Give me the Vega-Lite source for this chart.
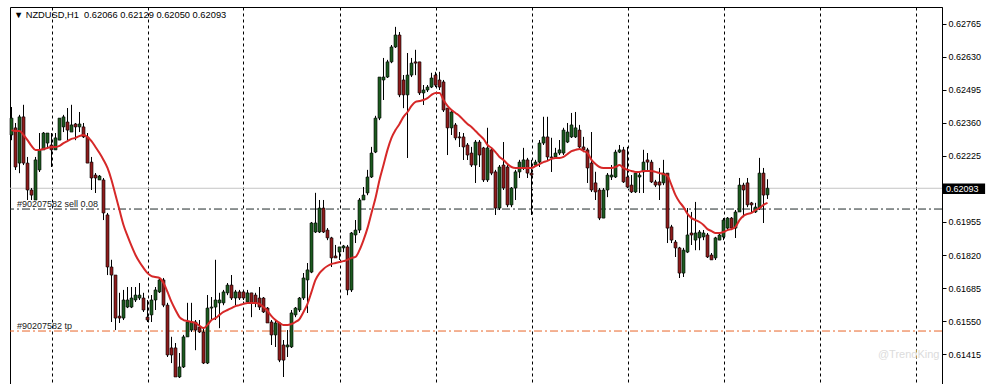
{
"$schema": "https://vega.github.io/schema/vega-lite/v6.json",
"width": 932, "height": 377,
"autosize": {"type": "none"},
"padding": {"left": 10, "top": 7, "right": 45, "bottom": 0},
"background": "white",
"config": {"view": {"stroke": "#000", "strokeWidth": 1}, "font": "Liberation Sans",
  "axisY": {"title": null, "grid": false, "tickSize": 4, "tickColor": "#000", "domainColor": "#000", "labelFontSize": 9, "labelColor": "#000", "labelPadding": 2, "labelFont": "Liberation Sans", "format": ".5f"}},
"data": {"values": [
{"i":0,"o":0.62311,"h":0.62425,"l":0.62290,"c":0.62380,"m":0.62331},
{"i":1,"o":0.62340,"h":0.62360,"l":0.62168,"c":0.62180,"m":0.62327},
{"i":2,"o":0.62196,"h":0.62393,"l":0.62155,"c":0.62385,"m":0.62327},
{"i":3,"o":0.62385,"h":0.62434,"l":0.62188,"c":0.62196,"m":0.62311},
{"i":4,"o":0.62196,"h":0.62221,"l":0.62045,"c":0.62086,"m":0.62290},
{"i":5,"o":0.62086,"h":0.62094,"l":0.62045,"c":0.62065,"m":0.62266},
{"i":6,"o":0.62045,"h":0.62221,"l":0.62045,"c":0.62209,"m":0.62250},
{"i":7,"o":0.62168,"h":0.62319,"l":0.62160,"c":0.62250,"m":0.62250},
{"i":8,"o":0.62250,"h":0.62323,"l":0.62250,"c":0.62319,"m":0.62254},
{"i":9,"o":0.62278,"h":0.62319,"l":0.62258,"c":0.62319,"m":0.62258},
{"i":10,"o":0.62270,"h":0.62319,"l":0.62180,"c":0.62250,"m":0.62262},
{"i":11,"o":0.62250,"h":0.62319,"l":0.62250,"c":0.62299,"m":0.62262},
{"i":12,"o":0.62290,"h":0.62380,"l":0.62290,"c":0.62380,"m":0.62266},
{"i":13,"o":0.62344,"h":0.62393,"l":0.62323,"c":0.62385,"m":0.62278},
{"i":14,"o":0.62364,"h":0.62421,"l":0.62290,"c":0.62331,"m":0.62286},
{"i":15,"o":0.62323,"h":0.62434,"l":0.62323,"c":0.62352,"m":0.62295},
{"i":16,"o":0.62356,"h":0.62360,"l":0.62290,"c":0.62344,"m":0.62299},
{"i":17,"o":0.62344,"h":0.62405,"l":0.62323,"c":0.62356,"m":0.62307},
{"i":18,"o":0.62344,"h":0.62360,"l":0.62299,"c":0.62303,"m":0.62311},
{"i":19,"o":0.62303,"h":0.62319,"l":0.62196,"c":0.62196,"m":0.62303},
{"i":20,"o":0.62200,"h":0.62221,"l":0.62086,"c":0.62135,"m":0.62286},
{"i":21,"o":0.62147,"h":0.62155,"l":0.62074,"c":0.62135,"m":0.62262},
{"i":22,"o":0.62127,"h":0.62147,"l":0.62127,"c":0.62143,"m":0.62237},
{"i":23,"o":0.62127,"h":0.62135,"l":0.61963,"c":0.61992,"m":0.62209},
{"i":24,"o":0.61984,"h":0.61992,"l":0.61738,"c":0.61771,"m":0.62176},
{"i":25,"o":0.61771,"h":0.61800,"l":0.61546,"c":0.61738,"m":0.62127},
{"i":26,"o":0.61738,"h":0.61738,"l":0.61513,"c":0.61562,"m":0.62065},
{"i":27,"o":0.61570,"h":0.61665,"l":0.61542,"c":0.61562,"m":0.62004},
{"i":28,"o":0.61562,"h":0.61677,"l":0.61554,"c":0.61636,"m":0.61943},
{"i":29,"o":0.61607,"h":0.61689,"l":0.61603,"c":0.61636,"m":0.61898},
{"i":30,"o":0.61607,"h":0.61689,"l":0.61603,"c":0.61644,"m":0.61857},
{"i":31,"o":0.61636,"h":0.61689,"l":0.61628,"c":0.61656,"m":0.61820},
{"i":32,"o":0.61644,"h":0.61705,"l":0.61636,"c":0.61656,"m":0.61791},
{"i":33,"o":0.61644,"h":0.61665,"l":0.61587,"c":0.61595,"m":0.61767},
{"i":34,"o":0.61566,"h":0.61636,"l":0.61546,"c":0.61554,"m":0.61746},
{"i":35,"o":0.61575,"h":0.61656,"l":0.61546,"c":0.61636,"m":0.61734},
{"i":36,"o":0.61636,"h":0.61689,"l":0.61595,"c":0.61677,"m":0.61730},
{"i":37,"o":0.61669,"h":0.61726,"l":0.61665,"c":0.61718,"m":0.61726},
{"i":38,"o":0.61718,"h":0.61726,"l":0.61607,"c":0.61615,"m":0.61705},
{"i":39,"o":0.61615,"h":0.61624,"l":0.61403,"c":0.61411,"m":0.61669},
{"i":40,"o":0.61440,"h":0.61485,"l":0.61378,"c":0.61411,"m":0.61628},
{"i":41,"o":0.61440,"h":0.61460,"l":0.61321,"c":0.61321,"m":0.61595},
{"i":42,"o":0.61321,"h":0.61419,"l":0.61317,"c":0.61362,"m":0.61566},
{"i":43,"o":0.61362,"h":0.61493,"l":0.61358,"c":0.61485,"m":0.61554},
{"i":44,"o":0.61485,"h":0.61624,"l":0.61485,"c":0.61546,"m":0.61550},
{"i":45,"o":0.61513,"h":0.61624,"l":0.61505,"c":0.61546,"m":0.61546},
{"i":46,"o":0.61546,"h":0.61554,"l":0.61431,"c":0.61513,"m":0.61542},
{"i":47,"o":0.61525,"h":0.61554,"l":0.61501,"c":0.61505,"m":0.61530},
{"i":48,"o":0.61505,"h":0.61525,"l":0.61374,"c":0.61378,"m":0.61521},
{"i":49,"o":0.61378,"h":0.61656,"l":0.61374,"c":0.61603,"m":0.61534},
{"i":50,"o":0.61603,"h":0.61648,"l":0.61554,"c":0.61607,"m":0.61554},
{"i":51,"o":0.61607,"h":0.61800,"l":0.61554,"c":0.61636,"m":0.61562},
{"i":52,"o":0.61624,"h":0.61665,"l":0.61521,"c":0.61636,"m":0.61575},
{"i":53,"o":0.61624,"h":0.61677,"l":0.61615,"c":0.61669,"m":0.61587},
{"i":54,"o":0.61665,"h":0.61705,"l":0.61656,"c":0.61697,"m":0.61595},
{"i":55,"o":0.61697,"h":0.61738,"l":0.61636,"c":0.61644,"m":0.61603},
{"i":56,"o":0.61644,"h":0.61677,"l":0.61615,"c":0.61669,"m":0.61611},
{"i":57,"o":0.61669,"h":0.61677,"l":0.61636,"c":0.61644,"m":0.61615},
{"i":58,"o":0.61669,"h":0.61677,"l":0.61636,"c":0.61644,"m":0.61620},
{"i":59,"o":0.61628,"h":0.61677,"l":0.61628,"c":0.61665,"m":0.61624},
{"i":60,"o":0.61665,"h":0.61665,"l":0.61566,"c":0.61624,"m":0.61624},
{"i":61,"o":0.61656,"h":0.61665,"l":0.61607,"c":0.61624,"m":0.61624},
{"i":62,"o":0.61644,"h":0.61689,"l":0.61595,"c":0.61607,"m":0.61620},
{"i":63,"o":0.61644,"h":0.61648,"l":0.61583,"c":0.61587,"m":0.61607},
{"i":64,"o":0.61603,"h":0.61607,"l":0.61542,"c":0.61542,"m":0.61591},
{"i":65,"o":0.61546,"h":0.61554,"l":0.61452,"c":0.61493,"m":0.61570},
{"i":66,"o":0.61493,"h":0.61554,"l":0.61444,"c":0.61542,"m":0.61554},
{"i":67,"o":0.61542,"h":0.61546,"l":0.61382,"c":0.61390,"m":0.61542},
{"i":68,"o":0.61452,"h":0.61472,"l":0.61321,"c":0.61390,"m":0.61534},
{"i":69,"o":0.61444,"h":0.61513,"l":0.61403,"c":0.61452,"m":0.61534},
{"i":70,"o":0.61444,"h":0.61595,"l":0.61440,"c":0.61583,"m":0.61538},
{"i":71,"o":0.61575,"h":0.61607,"l":0.61566,"c":0.61603,"m":0.61546},
{"i":72,"o":0.61595,"h":0.61648,"l":0.61587,"c":0.61644,"m":0.61558},
{"i":73,"o":0.61644,"h":0.61746,"l":0.61636,"c":0.61726,"m":0.61587},
{"i":74,"o":0.61718,"h":0.61787,"l":0.61583,"c":0.61759,"m":0.61620},
{"i":75,"o":0.61750,"h":0.61955,"l":0.61746,"c":0.61951,"m":0.61669},
{"i":76,"o":0.61914,"h":0.62074,"l":0.61910,"c":0.61951,"m":0.61718},
{"i":77,"o":0.61914,"h":0.62045,"l":0.61910,"c":0.62012,"m":0.61746},
{"i":78,"o":0.62012,"h":0.62045,"l":0.61910,"c":0.61914,"m":0.61763},
{"i":79,"o":0.61922,"h":0.61930,"l":0.61881,"c":0.61890,"m":0.61775},
{"i":80,"o":0.61890,"h":0.61894,"l":0.61771,"c":0.61808,"m":0.61783},
{"i":81,"o":0.61816,"h":0.61861,"l":0.61808,"c":0.61808,"m":0.61787},
{"i":82,"o":0.61832,"h":0.61853,"l":0.61800,"c":0.61853,"m":0.61791},
{"i":83,"o":0.61849,"h":0.61861,"l":0.61832,"c":0.61857,"m":0.61795},
{"i":84,"o":0.61853,"h":0.61861,"l":0.61656,"c":0.61677,"m":0.61800},
{"i":85,"o":0.61677,"h":0.61914,"l":0.61669,"c":0.61910,"m":0.61808},
{"i":86,"o":0.61902,"h":0.61963,"l":0.61869,"c":0.61922,"m":0.61812},
{"i":87,"o":0.61922,"h":0.62053,"l":0.61910,"c":0.62045,"m":0.61840},
{"i":88,"o":0.62045,"h":0.62098,"l":0.62045,"c":0.62065,"m":0.61881},
{"i":89,"o":0.62074,"h":0.62168,"l":0.62065,"c":0.62139,"m":0.61930},
{"i":90,"o":0.62139,"h":0.62262,"l":0.62135,"c":0.62237,"m":0.61992},
{"i":91,"o":0.62241,"h":0.62389,"l":0.62237,"c":0.62380,"m":0.62053},
{"i":92,"o":0.62380,"h":0.62548,"l":0.62372,"c":0.62548,"m":0.62127},
{"i":93,"o":0.62536,"h":0.62626,"l":0.62454,"c":0.62548,"m":0.62188},
{"i":94,"o":0.62548,"h":0.62618,"l":0.62544,"c":0.62610,"m":0.62250},
{"i":95,"o":0.62610,"h":0.62679,"l":0.62605,"c":0.62671,"m":0.62299},
{"i":96,"o":0.62671,"h":0.62753,"l":0.62667,"c":0.62720,"m":0.62331},
{"i":97,"o":0.62720,"h":0.62732,"l":0.62466,"c":0.62475,"m":0.62356},
{"i":98,"o":0.62536,"h":0.62556,"l":0.62421,"c":0.62475,"m":0.62385},
{"i":99,"o":0.62475,"h":0.62646,"l":0.62217,"c":0.62556,"m":0.62405},
{"i":100,"o":0.62556,"h":0.62626,"l":0.62548,"c":0.62605,"m":0.62430},
{"i":101,"o":0.62610,"h":0.62659,"l":0.62556,"c":0.62605,"m":0.62446},
{"i":102,"o":0.62610,"h":0.62610,"l":0.62475,"c":0.62483,"m":0.62450},
{"i":103,"o":0.62483,"h":0.62515,"l":0.62434,"c":0.62495,"m":0.62454},
{"i":104,"o":0.62495,"h":0.62515,"l":0.62487,"c":0.62507,"m":0.62462},
{"i":105,"o":0.62507,"h":0.62565,"l":0.62503,"c":0.62544,"m":0.62475},
{"i":106,"o":0.62556,"h":0.62569,"l":0.62507,"c":0.62515,"m":0.62483},
{"i":107,"o":0.62536,"h":0.62569,"l":0.62495,"c":0.62507,"m":0.62483},
{"i":108,"o":0.62528,"h":0.62536,"l":0.62405,"c":0.62413,"m":0.62454},
{"i":109,"o":0.62421,"h":0.62421,"l":0.62229,"c":0.62340,"m":0.62430},
{"i":110,"o":0.62340,"h":0.62413,"l":0.62311,"c":0.62405,"m":0.62413},
{"i":111,"o":0.62352,"h":0.62360,"l":0.62290,"c":0.62299,"m":0.62401},
{"i":112,"o":0.62303,"h":0.62323,"l":0.62262,"c":0.62299,"m":0.62389},
{"i":113,"o":0.62303,"h":0.62319,"l":0.62209,"c":0.62262,"m":0.62372},
{"i":114,"o":0.62270,"h":0.62278,"l":0.62209,"c":0.62229,"m":0.62356},
{"i":115,"o":0.62237,"h":0.62262,"l":0.62180,"c":0.62188,"m":0.62344},
{"i":116,"o":0.62188,"h":0.62290,"l":0.62115,"c":0.62282,"m":0.62327},
{"i":117,"o":0.62282,"h":0.62290,"l":0.62180,"c":0.62229,"m":0.62311},
{"i":118,"o":0.62258,"h":0.62262,"l":0.62119,"c":0.62127,"m":0.62295},
{"i":119,"o":0.62127,"h":0.62340,"l":0.62119,"c":0.62258,"m":0.62270},
{"i":120,"o":0.62250,"h":0.62258,"l":0.62147,"c":0.62155,"m":0.62258},
{"i":121,"o":0.62160,"h":0.62168,"l":0.61984,"c":0.62012,"m":0.62241},
{"i":122,"o":0.62012,"h":0.62188,"l":0.62004,"c":0.62180,"m":0.62221},
{"i":123,"o":0.62188,"h":0.62282,"l":0.62086,"c":0.62094,"m":0.62209},
{"i":124,"o":0.62180,"h":0.62188,"l":0.62016,"c":0.62025,"m":0.62192},
{"i":125,"o":0.62025,"h":0.62098,"l":0.62016,"c":0.62094,"m":0.62180},
{"i":126,"o":0.62094,"h":0.62168,"l":0.62045,"c":0.62160,"m":0.62176},
{"i":127,"o":0.62160,"h":0.62209,"l":0.62135,"c":0.62200,"m":0.62176},
{"i":128,"o":0.62176,"h":0.62258,"l":0.62168,"c":0.62209,"m":0.62176},
{"i":129,"o":0.62209,"h":0.62217,"l":0.62135,"c":0.62155,"m":0.62176},
{"i":130,"o":0.62155,"h":0.62209,"l":0.61984,"c":0.62147,"m":0.62176},
{"i":131,"o":0.62188,"h":0.62209,"l":0.62180,"c":0.62200,"m":0.62184},
{"i":132,"o":0.62200,"h":0.62290,"l":0.62180,"c":0.62278,"m":0.62192},
{"i":133,"o":0.62278,"h":0.62385,"l":0.62270,"c":0.62303,"m":0.62200},
{"i":134,"o":0.62303,"h":0.62385,"l":0.62209,"c":0.62221,"m":0.62205},
{"i":135,"o":0.62221,"h":0.62299,"l":0.62160,"c":0.62217,"m":0.62213},
{"i":136,"o":0.62221,"h":0.62258,"l":0.62221,"c":0.62237,"m":0.62217},
{"i":137,"o":0.62237,"h":0.62290,"l":0.62229,"c":0.62250,"m":0.62217},
{"i":138,"o":0.62237,"h":0.62340,"l":0.62229,"c":0.62331,"m":0.62221},
{"i":139,"o":0.62282,"h":0.62360,"l":0.62278,"c":0.62323,"m":0.62233},
{"i":140,"o":0.62303,"h":0.62401,"l":0.62299,"c":0.62352,"m":0.62245},
{"i":141,"o":0.62303,"h":0.62405,"l":0.62299,"c":0.62340,"m":0.62250},
{"i":142,"o":0.62331,"h":0.62352,"l":0.62258,"c":0.62262,"m":0.62254},
{"i":143,"o":0.62262,"h":0.62303,"l":0.62241,"c":0.62250,"m":0.62245},
{"i":144,"o":0.62250,"h":0.62258,"l":0.62115,"c":0.62176,"m":0.62237},
{"i":145,"o":0.62196,"h":0.62323,"l":0.62078,"c":0.62086,"m":0.62209},
{"i":146,"o":0.62115,"h":0.62160,"l":0.62045,"c":0.62078,"m":0.62192},
{"i":147,"o":0.62086,"h":0.62094,"l":0.61963,"c":0.61971,"m":0.62180},
{"i":148,"o":0.61971,"h":0.62094,"l":0.61971,"c":0.62086,"m":0.62176},
{"i":149,"o":0.62086,"h":0.62155,"l":0.62057,"c":0.62147,"m":0.62176},
{"i":150,"o":0.62139,"h":0.62188,"l":0.62127,"c":0.62147,"m":0.62176},
{"i":151,"o":0.62139,"h":0.62250,"l":0.62135,"c":0.62241,"m":0.62180},
{"i":152,"o":0.62241,"h":0.62270,"l":0.62237,"c":0.62250,"m":0.62188},
{"i":153,"o":0.62250,"h":0.62262,"l":0.62115,"c":0.62119,"m":0.62176},
{"i":154,"o":0.62139,"h":0.62262,"l":0.62094,"c":0.62098,"m":0.62168},
{"i":155,"o":0.62106,"h":0.62147,"l":0.62074,"c":0.62078,"m":0.62164},
{"i":156,"o":0.62078,"h":0.62160,"l":0.62074,"c":0.62155,"m":0.62160},
{"i":157,"o":0.62139,"h":0.62155,"l":0.62074,"c":0.62147,"m":0.62160},
{"i":158,"o":0.62160,"h":0.62250,"l":0.62074,"c":0.62200,"m":0.62164},
{"i":159,"o":0.62209,"h":0.62237,"l":0.62160,"c":0.62200,"m":0.62164},
{"i":160,"o":0.62200,"h":0.62209,"l":0.62115,"c":0.62119,"m":0.62164},
{"i":161,"o":0.62119,"h":0.62127,"l":0.62098,"c":0.62106,"m":0.62160},
{"i":162,"o":0.62119,"h":0.62176,"l":0.62045,"c":0.62106,"m":0.62155},
{"i":163,"o":0.62115,"h":0.62209,"l":0.62106,"c":0.62155,"m":0.62151},
{"i":164,"o":0.62155,"h":0.62155,"l":0.61869,"c":0.61930,"m":0.62143},
{"i":165,"o":0.61935,"h":0.61943,"l":0.61869,"c":0.61881,"m":0.62106},
{"i":166,"o":0.61873,"h":0.61881,"l":0.61812,"c":0.61849,"m":0.62065},
{"i":167,"o":0.61849,"h":0.61853,"l":0.61726,"c":0.61746,"m":0.62037},
{"i":168,"o":0.61746,"h":0.61849,"l":0.61730,"c":0.61840,"m":0.62016},
{"i":169,"o":0.61832,"h":0.62012,"l":0.61828,"c":0.61902,"m":0.61988},
{"i":170,"o":0.61910,"h":0.61996,"l":0.61861,"c":0.61902,"m":0.61971},
{"i":171,"o":0.61881,"h":0.62037,"l":0.61840,"c":0.61910,"m":0.61963},
{"i":172,"o":0.61890,"h":0.61922,"l":0.61840,"c":0.61914,"m":0.61955},
{"i":173,"o":0.61894,"h":0.61922,"l":0.61881,"c":0.61910,"m":0.61943},
{"i":174,"o":0.61902,"h":0.61910,"l":0.61808,"c":0.61812,"m":0.61926},
{"i":175,"o":0.61820,"h":0.61828,"l":0.61800,"c":0.61800,"m":0.61918},
{"i":176,"o":0.61808,"h":0.61894,"l":0.61800,"c":0.61890,"m":0.61910},
{"i":177,"o":0.61881,"h":0.61910,"l":0.61881,"c":0.61902,"m":0.61910},
{"i":178,"o":0.61894,"h":0.61971,"l":0.61881,"c":0.61963,"m":0.61914},
{"i":179,"o":0.61930,"h":0.61975,"l":0.61922,"c":0.61971,"m":0.61922},
{"i":180,"o":0.61971,"h":0.61975,"l":0.61922,"c":0.61930,"m":0.61926},
{"i":181,"o":0.61930,"h":0.62004,"l":0.61890,"c":0.61996,"m":0.61935},
{"i":182,"o":0.61996,"h":0.62135,"l":0.61996,"c":0.62106,"m":0.61963},
{"i":183,"o":0.62106,"h":0.62115,"l":0.61975,"c":0.62086,"m":0.61980},
{"i":184,"o":0.62115,"h":0.62135,"l":0.62016,"c":0.62025,"m":0.61988},
{"i":185,"o":0.62033,"h":0.62037,"l":0.61996,"c":0.62025,"m":0.61992},
{"i":186,"o":0.61996,"h":0.62033,"l":0.61992,"c":0.62016,"m":0.62004},
{"i":187,"o":0.62012,"h":0.62217,"l":0.62004,"c":0.62155,"m":0.62012},
{"i":188,"o":0.62155,"h":0.62176,"l":0.61951,"c":0.62065,"m":0.62025},
{"i":189,"o":0.62066,"h":0.62129,"l":0.62050,"c":0.62093,"m":0.62033}
]},
"layer": [
{"mark": {"type": "rule", "color": "#000", "strokeWidth": 1},
 "encoding": {
  "x": {"field": "i", "type": "quantitative", "scale": {"domain": [-0.375, 232.625], "nice": false, "zero": false, "padding": 0},
        "axis": {"values": [10, 34, 58, 82, 106, 130, 154, 178, 202, 226], "grid": true, "gridDash": [3, 3], "gridColor": "#000", "gridOpacity": 1, "gridWidth": 1, "labels": false, "ticks": false, "domain": false, "title": null}},
  "y": {"field": "l", "type": "quantitative", "scale": {"domain": [0.612923, 0.628345], "nice": false, "zero": false, "padding": 0},
        "axis": {"orient": "right", "values": [0.61415, 0.6155, 0.61685, 0.6182, 0.61955, 0.62225, 0.6236, 0.62495, 0.6263, 0.62765], "format": ".5f", "title": null}},
  "y2": {"field": "h"}
 }},
{"data": {"values": [{}]}, "mark": {"type": "rule", "color": "#c4c4c4", "strokeWidth": 1},
 "encoding": {"y": {"datum": 0.62093, "type": "quantitative", "axis": {"orient": "right", "values": [0.61415, 0.6155, 0.61685, 0.6182, 0.61955, 0.62225, 0.6236, 0.62495, 0.6263, 0.62765], "format": ".5f", "title": null}}}},
{"data": {"values": [{}]}, "mark": {"type": "rule", "color": "#1f2a2a", "strokeWidth": 1, "strokeDash": [8, 3, 2, 3]},
 "encoding": {"y": {"datum": 0.62008, "type": "quantitative", "axis": {"orient": "right", "values": [0.61415, 0.6155, 0.61685, 0.6182, 0.61955, 0.62225, 0.6236, 0.62495, 0.6263, 0.62765], "format": ".5f", "title": null}}}},
{"data": {"values": [{}]}, "mark": {"type": "rule", "color": "#e8662a", "strokeWidth": 1, "strokeDash": [8, 3, 2, 3]},
 "encoding": {"y": {"datum": 0.61509, "type": "quantitative", "axis": {"orient": "right", "values": [0.61415, 0.6155, 0.61685, 0.6182, 0.61955, 0.62225, 0.6236, 0.62495, 0.6263, 0.62765], "format": ".5f", "title": null}}}},
{"mark": {"type": "rule", "color": "#000", "strokeWidth": 1},
 "encoding": {
  "x": {"field": "i", "type": "quantitative"},
  "y": {"field": "l", "type": "quantitative", "axis": {"orient": "right", "values": [0.61415, 0.6155, 0.61685, 0.6182, 0.61955, 0.62225, 0.6236, 0.62495, 0.6263, 0.62765], "format": ".5f", "title": null}},
  "y2": {"field": "h"}
 }},
{"mark": {"type": "bar", "width": 3, "stroke": "#000", "strokeWidth": 0.6},
 "encoding": {
  "x": {"field": "i", "type": "quantitative"},
  "y": {"field": "o", "type": "quantitative", "axis": {"orient": "right", "values": [0.61415, 0.6155, 0.61685, 0.6182, 0.61955, 0.62225, 0.6236, 0.62495, 0.6263, 0.62765], "format": ".5f", "title": null}},
  "y2": {"field": "c"},
  "fill": {"condition": {"test": "datum.c < datum.o", "value": "#8e1c1c"}, "value": "#1c5a1f"}
 }},
{"mark": {"type": "line", "color": "#d62828", "strokeWidth": 2, "interpolate": "monotone"},
 "encoding": {
  "x": {"field": "i", "type": "quantitative"},
  "y": {"field": "m", "type": "quantitative", "axis": {"orient": "right", "values": [0.61415, 0.6155, 0.61685, 0.6182, 0.61955, 0.62225, 0.6236, 0.62495, 0.6263, 0.62765], "format": ".5f", "title": null}}
 }},
{"data": {"values": [{}]}, "mark": {"type": "text", "text": "#90207582 sell 0.08", "align": "left", "baseline": "alphabetic", "fontSize": 9, "font": "Liberation Sans", "color": "#222"},
 "encoding": {"x": {"datum": 1.35, "type": "quantitative"}, "y": {"datum": 0.62016, "type": "quantitative", "axis": {"orient": "right", "values": [0.61415, 0.6155, 0.61685, 0.6182, 0.61955, 0.62225, 0.6236, 0.62495, 0.6263, 0.62765], "format": ".5f", "title": null}}}},
{"data": {"values": [{}]}, "mark": {"type": "text", "text": "#90207582 tp", "align": "left", "baseline": "alphabetic", "fontSize": 9, "font": "Liberation Sans", "color": "#222"},
 "encoding": {"x": {"datum": 1.35, "type": "quantitative"}, "y": {"datum": 0.61517, "type": "quantitative", "axis": {"orient": "right", "values": [0.61415, 0.6155, 0.61685, 0.6182, 0.61955, 0.62225, 0.6236, 0.62495, 0.6263, 0.62765], "format": ".5f", "title": null}}}},
{"data": {"values": [{}]}, "mark": {"type": "text", "text": "▼ NZDUSD,H1\u00a0\u00a00.62066 0.62129 0.62050 0.62093", "align": "left", "baseline": "middle", "fontSize": 9.3, "font": "Liberation Sans", "color": "#000"},
 "encoding": {"x": {"datum": 0.6, "type": "quantitative"}, "y": {"datum": 0.62802, "type": "quantitative", "axis": {"orient": "right", "values": [0.61415, 0.6155, 0.61685, 0.6182, 0.61955, 0.62225, 0.6236, 0.62495, 0.6263, 0.62765], "format": ".5f", "title": null}}}},
{"data": {"values": [{}]}, "mark": {"type": "rect", "color": "#000", "clip": false},
 "encoding": {"x": {"datum": 232.85, "type": "quantitative"}, "x2": {"datum": 243.4}, "y": {"datum": 0.621125, "type": "quantitative", "axis": {"orient": "right", "values": [0.61415, 0.6155, 0.61685, 0.6182, 0.61955, 0.62225, 0.6236, 0.62495, 0.6263, 0.62765], "format": ".5f", "title": null}}, "y2": {"datum": 0.620695}}},
{"data": {"values": [{}]}, "mark": {"type": "text", "text": "0.62093", "align": "left", "baseline": "middle", "fontSize": 9, "font": "Liberation Sans", "color": "#fff"},
 "encoding": {"x": {"datum": 233.6, "type": "quantitative"}, "y": {"datum": 0.62091, "type": "quantitative", "axis": {"orient": "right", "values": [0.61415, 0.6155, 0.61685, 0.6182, 0.61955, 0.62225, 0.6236, 0.62495, 0.6263, 0.62765], "format": ".5f", "title": null}}}},
{"data": {"values": [{}]}, "mark": {"type": "text", "text": "@TrendKing", "align": "left", "baseline": "middle", "fontSize": 11, "font": "Liberation Sans", "color": "#dcdcdc"},
 "encoding": {"x": {"datum": 216.6, "type": "quantitative"}, "y": {"datum": 0.61411, "type": "quantitative", "axis": {"orient": "right", "values": [0.61415, 0.6155, 0.61685, 0.6182, 0.61955, 0.62225, 0.6236, 0.62495, 0.6263, 0.62765], "format": ".5f", "title": null}}}}
]
}
